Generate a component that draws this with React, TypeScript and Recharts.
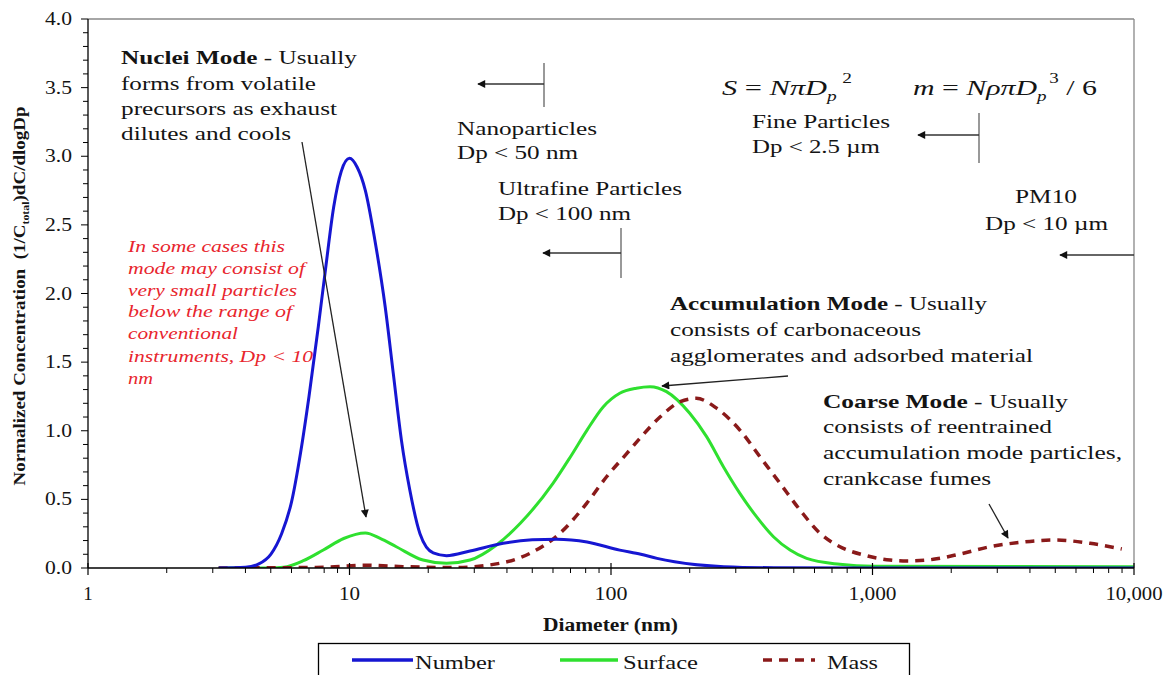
import React from 'react';
import { LineChart, Line, XAxis, YAxis, ReferenceLine } from 'recharts';

const FONT = '"Liberation Serif", "Times New Roman", Times, serif';

// ---- data ----
const numberDiameters = [3.16, 4.0, 4.5, 5.0, 5.5, 6.0, 6.5, 7.0, 7.6, 8.1, 8.7, 9.3, 10, 10.7, 11.5, 12.5, 13.7, 14.7, 15.8, 17.0, 18.6, 20.9, 23.5, 28.9, 38.7, 50, 62, 81, 108, 130, 150, 175, 270, 420, 1000, 10000];
const numberValues = [0, 0.005, 0.03, 0.1, 0.25, 0.48, 0.84, 1.25, 1.76, 2.18, 2.63, 2.89, 2.985, 2.92, 2.75, 2.39, 1.9, 1.42, 0.93, 0.57, 0.25, 0.11, 0.09, 0.124, 0.18, 0.205, 0.21, 0.19, 0.13, 0.1, 0.07, 0.045, 0.01, 0.002, 0, 0];

const surfaceDiameters = [3.16, 5.0, 5.6, 6.66, 7.94, 9.5, 11.5, 13.1, 15.1, 19.1, 23.5, 28.9, 36.5, 45, 60, 70, 81, 93.5, 108, 125, 141, 163, 200, 232, 269, 311, 360, 418, 484, 560, 750, 1000, 10000];
const surfaceValues = [0, 0, 0.005, 0.053, 0.131, 0.215, 0.255, 0.216, 0.155, 0.058, 0.034, 0.058, 0.168, 0.326, 0.617, 0.811, 1.005, 1.175, 1.273, 1.31, 1.321, 1.285, 1.127, 0.957, 0.738, 0.544, 0.374, 0.228, 0.131, 0.07, 0.027, 0.012, 0.01];

const massDiameters = [3.16, 8, 11.5, 16, 25, 38.7, 49, 63.8, 80.7, 96.2, 115, 129, 154, 184, 212, 254, 311, 371, 443, 528, 630, 751, 923, 1167, 1352, 1709, 2161, 2813, 3556, 4990, 6790, 8980];
const massValues = [0, 0.005, 0.02, 0.01, 0.003, 0.039, 0.107, 0.253, 0.471, 0.665, 0.835, 0.945, 1.10, 1.212, 1.236, 1.163, 1.005, 0.811, 0.617, 0.423, 0.253, 0.155, 0.095, 0.058, 0.051, 0.063, 0.102, 0.155, 0.184, 0.204, 0.18, 0.138];

const xTicks = [1, 2, 3, 4, 5, 6, 7, 8, 9, 10, 20, 30, 40, 50, 60, 70, 80, 90, 100, 200, 300, 400, 500, 600, 700, 800, 900, 1000, 2000, 3000, 4000, 5000, 6000, 7000, 8000, 9000, 10000];
const xTickLabels: Record<string, string> = { '1': '1', '10': '10', '100': '100', '1000': '1,000', '10000': '10,000' };
const xLabelWidths: Record<string, number> = { '1': 9, '10': 21, '100': 33, '1000': 48, '10000': 57 };

const yMajorTicks = [0, 0.5, 1.0, 1.5, 2.0, 2.5, 3.0, 3.5, 4.0];
const yMinorTicks = [0.1, 0.2, 0.3, 0.4, 0.6, 0.7, 0.8, 0.9, 1.1, 1.2, 1.3, 1.4, 1.6, 1.7, 1.8, 1.9, 2.1, 2.2, 2.3, 2.4, 2.6, 2.7, 2.8, 2.9, 3.1, 3.2, 3.3, 3.4, 3.6, 3.7, 3.8, 3.9];

const seriesNames = ['Number', 'Surface', 'Mass'];

const toRows = (d: number[], v: number[]) => d.map((x, i) => ({ d: x, v: v[i] }));
const numberData = toRows(numberDiameters, numberValues);
const surfaceData = toRows(surfaceDiameters, surfaceValues);
const massData = toRows(massDiameters, massValues);

const BLUE = '#1616d2';
const GREEN = '#2fe02f';
const MASS = '#8a1a1a';
const RED_TEXT = '#e8252d';
const INK = '#141414';

const XTick = (props: any) => {
  const { x, y, payload } = props;
  const key = String(payload.value);
  const label = xTickLabels[key];
  if (!label) {
    return <line x1={x} x2={x} y1={y} y2={y + 5} stroke="#000" strokeWidth={1} />;
  }
  return (
    <g>
      <line x1={x} x2={x} y1={y - 5} y2={y + 7} stroke="#000" strokeWidth={1.2} />
      <text x={x} y={y + 32} textAnchor="middle" fontSize={19} fontFamily={FONT} fill={INK}
        textLength={label.length > 1 ? xLabelWidths[key] : undefined} lengthAdjust="spacingAndGlyphs">{label}</text>
    </g>
  );
};

const YTick = (props: any) => {
  const { x, y, payload } = props;
  const v = Number(payload.value);
  const major = yMajorTicks.some((m) => Math.abs(m - v) < 1e-6);
  return (
    <g>
      <line x1={x} x2={x - (major ? 7 : 5)} y1={y} y2={y} stroke="#000" strokeWidth={1} />
      {major && (
        <text x={72} y={y + 6} textAnchor="end" fontSize={18} fontFamily={FONT} fill={INK}
          textLength={27} lengthAdjust="spacingAndGlyphs">{v.toFixed(1)}</text>
      )}
    </g>
  );
};

const T = (p: any) => {
  const { x, y, w, size = 19, children, ...rest } = p;
  return (
    <text x={x} y={y} fontSize={size} fontFamily={FONT} fill={INK} textLength={w}
      lengthAdjust="spacingAndGlyphs" {...rest}>{children}</text>
  );
};

const Overlay = () => (
  <svg width={1171} height={675} style={{ position: 'absolute', left: 0, top: 0, pointerEvents: 'none' }}>
    <defs>
      <marker id="ah" viewBox="0 0 10 10" refX="9" refY="5" markerWidth="11" markerHeight="8"
        orient="auto" markerUnits="userSpaceOnUse">
        <path d="M0,0 L10,5 L0,10 z" fill="#111" />
      </marker>
    </defs>

    {/* y axis title */}
    <text transform="translate(25,296) rotate(-90)" textAnchor="middle" fontSize={16} fontWeight="bold"
      fontFamily={FONT} fill={INK} textLength={379} lengthAdjust="spacingAndGlyphs">
      Normalized Concentration{'\u00A0\u00A0'}(1/C<tspan fontSize={10} dy={4}>total</tspan><tspan dy={-4}>)dC/dlogDp</tspan>
    </text>

    {/* x axis title */}
    <T x={543} y={631} w={135} size={18} fontWeight="bold">Diameter (nm)</T>

    {/* Nuclei mode */}
    <T x={121} y={64} w={236}><tspan fontWeight="bold">Nuclei Mode</tspan> - Usually</T>
    <T x={121} y={90} w={195}>forms from volatile</T>
    <T x={121} y={115} w={216}>precursors as exhaust</T>
    <T x={121} y={140} w={170}>dilutes and cools</T>
    <line x1={302} y1={142} x2={366} y2={517} stroke="#222" strokeWidth={1.3} markerEnd="url(#ah)" />

    {/* red italic note */}
    <g fontStyle="italic">
      <T x={128} y={252} w={157} size={17} fill={RED_TEXT}>In some cases this</T>
      <T x={128} y={274} w={177} size={17} fill={RED_TEXT}>mode may consist of</T>
      <T x={128} y={296} w={169} size={17} fill={RED_TEXT}>very small particles</T>
      <T x={128} y={317} w={164} size={17} fill={RED_TEXT}>below the range of</T>
      <T x={128} y={339} w={110} size={17} fill={RED_TEXT}>conventional</T>
      <T x={128} y={362} w={185} size={17} fill={RED_TEXT}>instruments, Dp &lt; 10</T>
      <T x={128} y={384} w={25} size={17} fill={RED_TEXT}>nm</T>
    </g>

    {/* Nanoparticles */}
    <line x1={544} y1={63} x2={544} y2={107} stroke="#777" strokeWidth={1.5} />
    <line x1={544} y1={84} x2={478} y2={84} stroke="#333" strokeWidth={1.4} markerEnd="url(#ah)" />
    <T x={457} y={135} w={140}>Nanoparticles</T>
    <T x={457} y={159} w={121}>Dp &lt; 50 nm</T>

    {/* Ultrafine */}
    <T x={498} y={195} w={184}>Ultrafine Particles</T>
    <T x={498} y={220} w={133}>Dp &lt; 100 nm</T>
    <line x1={621} y1={228} x2={621} y2={278} stroke="#777" strokeWidth={1.5} />
    <line x1={621} y1={253} x2={543} y2={253} stroke="#333" strokeWidth={1.4} markerEnd="url(#ah)" />

    {/* formulas */}
    <T x={722} y={95} w={130} size={22}>
      <tspan fontStyle="italic">S</tspan>{' = '}<tspan fontStyle="italic">NπD</tspan>
      <tspan fontStyle="italic" fontSize={14} dy={6}>p</tspan>
      <tspan fontSize={14} dy={-18} dx={4}>2</tspan>
    </T>
    <T x={913} y={95} w={184} size={22}>
      <tspan fontStyle="italic">m</tspan>{' = '}<tspan fontStyle="italic">NρπD</tspan>
      <tspan fontStyle="italic" fontSize={14} dy={6}>p</tspan>
      <tspan fontSize={14} dy={-18} dx={2}>3</tspan>
      <tspan dy={12}>{' / 6'}</tspan>
    </T>

    {/* Fine particles */}
    <T x={752} y={128} w={138}>Fine Particles</T>
    <T x={752} y={153} w={128}>Dp &lt; 2.5 µm</T>
    <line x1={979} y1={113} x2={979} y2={163} stroke="#777" strokeWidth={1.5} />
    <line x1={979} y1={135} x2={918} y2={135} stroke="#333" strokeWidth={1.4} markerEnd="url(#ah)" />

    {/* PM10 */}
    <T x={1015} y={203} w={62}>PM10</T>
    <T x={985} y={230} w={123}>Dp &lt; 10 µm</T>
    <line x1={1134} y1={255} x2={1060} y2={255} stroke="#333" strokeWidth={1.4} markerEnd="url(#ah)" />

    {/* Accumulation mode */}
    <T x={670} y={310} w={317}><tspan fontWeight="bold">Accumulation Mode</tspan> - Usually</T>
    <T x={670} y={336} w={251}>consists of carbonaceous</T>
    <T x={670} y={362} w={363}>agglomerates and adsorbed material</T>
    <line x1={788} y1={376} x2={662} y2={386} stroke="#222" strokeWidth={1.3} markerEnd="url(#ah)" />

    {/* Coarse mode */}
    <T x={823} y={408} w={245}><tspan fontWeight="bold">Coarse Mode</tspan> - Usually</T>
    <T x={823} y={433} w={229}>consists of reentrained</T>
    <T x={823} y={459} w={299}>accumulation mode particles,</T>
    <T x={823} y={485} w={168}>crankcase fumes</T>
    <line x1={989} y1={504} x2={1008} y2={538} stroke="#222" strokeWidth={1.3} markerEnd="url(#ah)" />

    {/* legend */}
    <rect x={318.5} y={643.5} width={591} height={45} fill="none" stroke="#000" strokeWidth={1.3} />
    <line x1={352} x2={413} y1={660} y2={660} stroke={BLUE} strokeWidth={3.5} />
    <T x={415} y={669} w={80}>{seriesNames[0]}</T>
    <line x1={560} x2={618} y1={660} y2={660} stroke={GREEN} strokeWidth={3.5} />
    <T x={623} y={669} w={75}>{seriesNames[1]}</T>
    <line x1={763} x2={815} y1={660} y2={660} stroke={MASS} strokeWidth={3.5} strokeDasharray="9 7" />
    <T x={827} y={669} w={51}>{seriesNames[2]}</T>
  </svg>
);

export default function App() {
  return (
    <div style={{ position: 'absolute', left: 0, top: 0, width: 1171, height: 675, background: '#fff' }}>
      <LineChart width={1171} height={675} margin={{ top: 19, right: 37, bottom: 67, left: 0 }}>
        <XAxis
          dataKey="d"
          type="number"
          scale="log"
          domain={[1, 10000]}
          allowDataOverflow
          ticks={xTicks}
          interval={0}
          height={40}
          tickSize={0}
          tickMargin={0}
          tickLine={false}
          tick={<XTick />}
          axisLine={{ stroke: '#000', strokeWidth: 1.3 }}
        />
        <YAxis
          type="number"
          domain={[0, 4]}
          allowDataOverflow
          ticks={[...yMajorTicks, ...yMinorTicks].sort((a, b) => a - b)}
          interval={0}
          width={88}
          tickSize={0}
          tickMargin={0}
          tickLine={false}
          tick={<YTick />}
          axisLine={{ stroke: '#000', strokeWidth: 1.3 }}
        />
        <ReferenceLine y={4} stroke="#888" strokeWidth={1.3} />
        <ReferenceLine x={10000} stroke="#888" strokeWidth={1.3} />
        <Line data={surfaceData} dataKey="v" name={seriesNames[1]} type="monotone" stroke={GREEN}
          strokeWidth={3} dot={false} activeDot={false} isAnimationActive={false} />
        <Line data={massData} dataKey="v" name={seriesNames[2]} type="monotone" stroke={MASS}
          strokeWidth={3.5} strokeDasharray="9 7" dot={false} activeDot={false} isAnimationActive={false} />
        <Line data={numberData} dataKey="v" name={seriesNames[0]} type="monotone" stroke={BLUE}
          strokeWidth={3} dot={false} activeDot={false} isAnimationActive={false} />
      </LineChart>
      <Overlay />
    </div>
  );
}
